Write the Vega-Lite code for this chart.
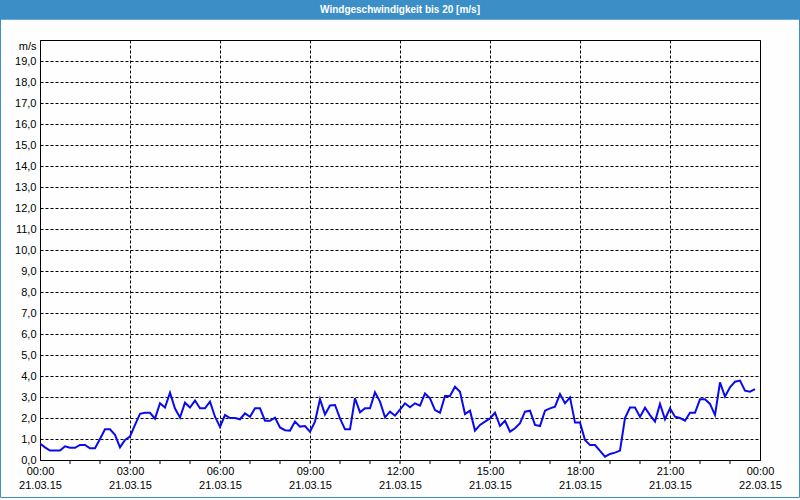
{
  "$schema": "https://vega.github.io/schema/vega-lite/v6.json",
  "width": 720,
  "height": 420,
  "autosize": "none",
  "padding": {"left": 40, "top": 40, "right": 40, "bottom": 40},
  "background": "#fdfefd",
  "config": {"font": "Liberation Sans"},
  "view": {"stroke": "black", "strokeWidth": 1, "fill": "#fdfefd"},
  "layer": [
    {
      "data": {"values": [
        {"t": "2015-03-21T00:00", "v": 0.78}, {"t": "2015-03-21T00:10", "v": 0.6}, {"t": "2015-03-21T00:20", "v": 0.45}, {"t": "2015-03-21T00:30", "v": 0.45}, {"t": "2015-03-21T00:40", "v": 0.45}, {"t": "2015-03-21T00:50", "v": 0.65},
        {"t": "2015-03-21T01:00", "v": 0.58}, {"t": "2015-03-21T01:10", "v": 0.58}, {"t": "2015-03-21T01:20", "v": 0.72}, {"t": "2015-03-21T01:30", "v": 0.72}, {"t": "2015-03-21T01:40", "v": 0.56}, {"t": "2015-03-21T01:50", "v": 0.56},
        {"t": "2015-03-21T02:00", "v": 1.0}, {"t": "2015-03-21T02:10", "v": 1.46}, {"t": "2015-03-21T02:20", "v": 1.46}, {"t": "2015-03-21T02:30", "v": 1.2}, {"t": "2015-03-21T02:40", "v": 0.6}, {"t": "2015-03-21T02:50", "v": 0.95},
        {"t": "2015-03-21T03:00", "v": 1.12}, {"t": "2015-03-21T03:10", "v": 1.67}, {"t": "2015-03-21T03:20", "v": 2.2}, {"t": "2015-03-21T03:30", "v": 2.25}, {"t": "2015-03-21T03:40", "v": 2.25}, {"t": "2015-03-21T03:50", "v": 1.97},
        {"t": "2015-03-21T04:00", "v": 2.7}, {"t": "2015-03-21T04:10", "v": 2.5}, {"t": "2015-03-21T04:20", "v": 3.2}, {"t": "2015-03-21T04:30", "v": 2.45}, {"t": "2015-03-21T04:40", "v": 2.02}, {"t": "2015-03-21T04:50", "v": 2.73},
        {"t": "2015-03-21T05:00", "v": 2.5}, {"t": "2015-03-21T05:10", "v": 2.83}, {"t": "2015-03-21T05:20", "v": 2.46}, {"t": "2015-03-21T05:30", "v": 2.46}, {"t": "2015-03-21T05:40", "v": 2.78}, {"t": "2015-03-21T05:50", "v": 2.06},
        {"t": "2015-03-21T06:00", "v": 1.58}, {"t": "2015-03-21T06:10", "v": 2.14}, {"t": "2015-03-21T06:20", "v": 2.0}, {"t": "2015-03-21T06:30", "v": 2.0}, {"t": "2015-03-21T06:40", "v": 1.94}, {"t": "2015-03-21T06:50", "v": 2.22},
        {"t": "2015-03-21T07:00", "v": 2.06}, {"t": "2015-03-21T07:10", "v": 2.46}, {"t": "2015-03-21T07:20", "v": 2.46}, {"t": "2015-03-21T07:30", "v": 1.87}, {"t": "2015-03-21T07:40", "v": 1.87}, {"t": "2015-03-21T07:50", "v": 2.02},
        {"t": "2015-03-21T08:00", "v": 1.55}, {"t": "2015-03-21T08:10", "v": 1.42}, {"t": "2015-03-21T08:20", "v": 1.4}, {"t": "2015-03-21T08:30", "v": 1.83}, {"t": "2015-03-21T08:40", "v": 1.59}, {"t": "2015-03-21T08:50", "v": 1.62},
        {"t": "2015-03-21T09:00", "v": 1.35}, {"t": "2015-03-21T09:10", "v": 1.83}, {"t": "2015-03-21T09:20", "v": 2.89}, {"t": "2015-03-21T09:30", "v": 2.17}, {"t": "2015-03-21T09:40", "v": 2.6}, {"t": "2015-03-21T09:50", "v": 2.62},
        {"t": "2015-03-21T10:00", "v": 1.98}, {"t": "2015-03-21T10:10", "v": 1.46}, {"t": "2015-03-21T10:20", "v": 1.46}, {"t": "2015-03-21T10:30", "v": 2.94}, {"t": "2015-03-21T10:40", "v": 2.27}, {"t": "2015-03-21T10:50", "v": 2.46},
        {"t": "2015-03-21T11:00", "v": 2.46}, {"t": "2015-03-21T11:10", "v": 3.22}, {"t": "2015-03-21T11:20", "v": 2.78}, {"t": "2015-03-21T11:30", "v": 2.03}, {"t": "2015-03-21T11:40", "v": 2.3}, {"t": "2015-03-21T11:50", "v": 2.11},
        {"t": "2015-03-21T12:00", "v": 2.4}, {"t": "2015-03-21T12:10", "v": 2.7}, {"t": "2015-03-21T12:20", "v": 2.51}, {"t": "2015-03-21T12:30", "v": 2.7}, {"t": "2015-03-21T12:40", "v": 2.59}, {"t": "2015-03-21T12:50", "v": 3.17},
        {"t": "2015-03-21T13:00", "v": 2.94}, {"t": "2015-03-21T13:10", "v": 2.38}, {"t": "2015-03-21T13:20", "v": 2.25}, {"t": "2015-03-21T13:30", "v": 3.05}, {"t": "2015-03-21T13:40", "v": 3.05}, {"t": "2015-03-21T13:50", "v": 3.49},
        {"t": "2015-03-21T14:00", "v": 3.25}, {"t": "2015-03-21T14:10", "v": 2.19}, {"t": "2015-03-21T14:20", "v": 2.35}, {"t": "2015-03-21T14:30", "v": 1.4}, {"t": "2015-03-21T14:40", "v": 1.67}, {"t": "2015-03-21T14:50", "v": 1.83},
        {"t": "2015-03-21T15:00", "v": 1.98}, {"t": "2015-03-21T15:10", "v": 2.25}, {"t": "2015-03-21T15:20", "v": 1.62}, {"t": "2015-03-21T15:30", "v": 1.87}, {"t": "2015-03-21T15:40", "v": 1.35}, {"t": "2015-03-21T15:50", "v": 1.51},
        {"t": "2015-03-21T16:00", "v": 1.75}, {"t": "2015-03-21T16:10", "v": 2.3}, {"t": "2015-03-21T16:20", "v": 2.35}, {"t": "2015-03-21T16:30", "v": 1.67}, {"t": "2015-03-21T16:40", "v": 1.62}, {"t": "2015-03-21T16:50", "v": 2.35},
        {"t": "2015-03-21T17:00", "v": 2.46}, {"t": "2015-03-21T17:10", "v": 2.54}, {"t": "2015-03-21T17:20", "v": 3.14}, {"t": "2015-03-21T17:30", "v": 2.7}, {"t": "2015-03-21T17:40", "v": 2.98}, {"t": "2015-03-21T17:50", "v": 1.78},
        {"t": "2015-03-21T18:00", "v": 1.78}, {"t": "2015-03-21T18:10", "v": 0.95}, {"t": "2015-03-21T18:20", "v": 0.71}, {"t": "2015-03-21T18:30", "v": 0.71}, {"t": "2015-03-21T18:40", "v": 0.43}, {"t": "2015-03-21T18:50", "v": 0.16},
        {"t": "2015-03-21T19:00", "v": 0.29}, {"t": "2015-03-21T19:10", "v": 0.35}, {"t": "2015-03-21T19:20", "v": 0.45}, {"t": "2015-03-21T19:30", "v": 2.0}, {"t": "2015-03-21T19:40", "v": 2.5}, {"t": "2015-03-21T19:50", "v": 2.5},
        {"t": "2015-03-21T20:00", "v": 2.05}, {"t": "2015-03-21T20:10", "v": 2.49}, {"t": "2015-03-21T20:20", "v": 2.14}, {"t": "2015-03-21T20:30", "v": 1.83}, {"t": "2015-03-21T20:40", "v": 2.67}, {"t": "2015-03-21T20:50", "v": 1.94},
        {"t": "2015-03-21T21:00", "v": 2.46}, {"t": "2015-03-21T21:10", "v": 2.06}, {"t": "2015-03-21T21:20", "v": 2.0}, {"t": "2015-03-21T21:30", "v": 1.87}, {"t": "2015-03-21T21:40", "v": 2.25}, {"t": "2015-03-21T21:50", "v": 2.25},
        {"t": "2015-03-21T22:00", "v": 2.89}, {"t": "2015-03-21T22:10", "v": 2.89}, {"t": "2015-03-21T22:20", "v": 2.67}, {"t": "2015-03-21T22:30", "v": 2.14}, {"t": "2015-03-21T22:40", "v": 3.7}, {"t": "2015-03-21T22:50", "v": 3.02},
        {"t": "2015-03-21T23:00", "v": 3.46}, {"t": "2015-03-21T23:10", "v": 3.73}, {"t": "2015-03-21T23:20", "v": 3.78}, {"t": "2015-03-21T23:30", "v": 3.3}, {"t": "2015-03-21T23:40", "v": 3.25}, {"t": "2015-03-21T23:50", "v": 3.37}
      ]},
      "mark": {"type": "line", "color": "#0a0aee", "strokeWidth": 2, "clip": true},
      "encoding": {
        "x": {
          "field": "t",
          "type": "temporal",
          "scale": {"domain": [{"year": 2015, "month": 3, "date": 21, "hours": 0}, {"year": 2015, "month": 3, "date": 22, "hours": 0}]},
          "axis": {
            "title": null,
            "values": [
              {"year": 2015, "month": 3, "date": 21, "hours": 0},
              {"year": 2015, "month": 3, "date": 21, "hours": 3},
              {"year": 2015, "month": 3, "date": 21, "hours": 6},
              {"year": 2015, "month": 3, "date": 21, "hours": 9},
              {"year": 2015, "month": 3, "date": 21, "hours": 12},
              {"year": 2015, "month": 3, "date": 21, "hours": 15},
              {"year": 2015, "month": 3, "date": 21, "hours": 18},
              {"year": 2015, "month": 3, "date": 21, "hours": 21},
              {"year": 2015, "month": 3, "date": 22, "hours": 0}
            ],
            "tickCount": 30,
            "labelExpr": "[timeFormat(datum.value, '%H:%M'), timeFormat(datum.value, '%d.%m.%y')]",
            "labelOverlap": false,
            "labelFlush": false,
            "labelBound": false,
            "labelFontSize": 11,
            "labelColor": "black",
            "labelLineHeight": 14,
            "labelPadding": 5,
            "ticks": false,
            "tickSize": 4,
            "domainColor": "black",
            "grid": true,
            "gridColor": "black",
            "gridDash": [3, 2],
            "gridOpacity": 1
          }
        },
        "y": {
          "field": "v",
          "type": "quantitative",
          "scale": {"domain": [0, 20], "nice": false},
          "axis": {
            "values": [0, 1, 2, 3, 4, 5, 6, 7, 8, 9, 10, 11, 12, 13, 14, 15, 16, 17, 18, 19],
            "tickCount": 30,
            "labelExpr": "replace(format(datum.value, '.1f'), '.', ',')",
            "labelOverlap": false,
            "labelFontSize": 11,
            "labelColor": "black",
            "labelPadding": 4,
            "tickSize": 0,
            "domainColor": "black",
            "grid": true,
            "gridColor": "black",
            "gridDash": [3, 2],
            "gridOpacity": 1,
            "title": "m/s",
            "titleAngle": 0,
            "titleX": -4,
            "titleY": 6,
            "titleAlign": "right",
            "titleBaseline": "middle",
            "titleFontWeight": "normal",
            "titleFontSize": 11,
            "titleColor": "black"
          }
        }
      }
    },
    {
      "data": {"values": [
        {"h": "2015-03-21T01:00"}, {"h": "2015-03-21T02:00"}, {"h": "2015-03-21T03:00"}, {"h": "2015-03-21T04:00"}, {"h": "2015-03-21T05:00"}, {"h": "2015-03-21T06:00"},
        {"h": "2015-03-21T07:00"}, {"h": "2015-03-21T08:00"}, {"h": "2015-03-21T09:00"}, {"h": "2015-03-21T10:00"}, {"h": "2015-03-21T11:00"}, {"h": "2015-03-21T12:00"},
        {"h": "2015-03-21T13:00"}, {"h": "2015-03-21T14:00"}, {"h": "2015-03-21T15:00"}, {"h": "2015-03-21T16:00"}, {"h": "2015-03-21T17:00"}, {"h": "2015-03-21T18:00"},
        {"h": "2015-03-21T19:00"}, {"h": "2015-03-21T20:00"}, {"h": "2015-03-21T21:00"}, {"h": "2015-03-21T22:00"}, {"h": "2015-03-21T23:00"}
      ]},
      "mark": {"type": "rule", "color": "black", "strokeWidth": 1, "clip": false},
      "encoding": {
        "x": {"field": "h", "type": "temporal"},
        "y": {"datum": 0},
        "y2": {"datum": -0.19}
      }
    },
    {
      "data": {"values": [{"a": "2015-03-20T22:40", "b": "2015-03-22T01:20", "lo": 20.97, "hi": 22.2}]},
      "mark": {"type": "rect", "color": "#3c8fc6", "clip": false},
      "encoding": {
        "x": {"field": "a", "type": "temporal"},
        "x2": {"field": "b"},
        "y": {"field": "lo", "type": "quantitative"},
        "y2": {"field": "hi"}
      }
    },
    {
      "data": {"values": [{"a": "2015-03-20T22:41", "b": "2015-03-22T01:19", "lo": -1.786, "hi": 22.2}]},
      "mark": {"type": "rect", "fillOpacity": 0, "stroke": "#3c8fc6", "strokeWidth": 1, "clip": false},
      "encoding": {
        "x": {"field": "a", "type": "temporal"},
        "x2": {"field": "b"},
        "y": {"field": "lo", "type": "quantitative"},
        "y2": {"field": "hi"}
      }
    },
    {
      "data": {"values": [{"lbl": "Windgeschwindigkeit bis 20 [m/s]", "tx": "2015-03-21T12:00", "ty": 21.45}]},
      "mark": {"type": "text", "color": "white", "fontWeight": "bold", "fontSize": 10, "align": "center", "baseline": "middle", "clip": false},
      "encoding": {
        "x": {"field": "tx", "type": "temporal"},
        "y": {"field": "ty", "type": "quantitative"},
        "text": {"field": "lbl"}
      }
    }
  ]
}
